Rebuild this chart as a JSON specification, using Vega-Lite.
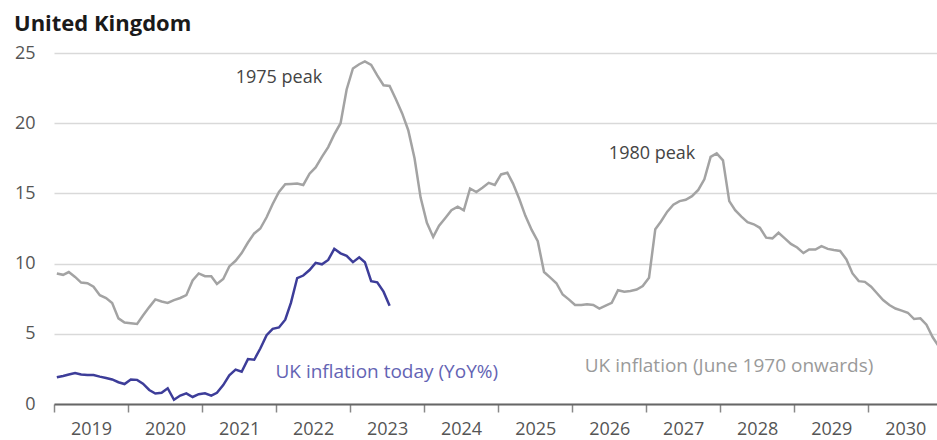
{
  "$schema": "https://vega.github.io/schema/vega-lite/v6.json",
  "autosize": {"type": "none"},
  "width": 883,
  "height": 351,
  "padding": {"left": 54, "top": 53, "right": 0, "bottom": 36},
  "background": "white",
  "title": {"text": "United Kingdom", "anchor": "start", "frame": "group", "dx": -40, "offset": -9, "fontSize": 22, "font": "Open Sans", "fontWeight": "bold", "color": "#1a1a1a", "baseline": "alphabetic"},
  "config": {"view": {"stroke": null}, "font": "Open Sans"},
  "datasets": {
    "history": [
      {"date": "2019-01-15", "value": 9.3}, {"date": "2019-02-15", "value": 9.2}, {"date": "2019-03-15", "value": 9.4}, {"date": "2019-04-15", "value": 9.05}, {"date": "2019-05-15", "value": 8.65}, {"date": "2019-06-15", "value": 8.6}, {"date": "2019-07-15", "value": 8.35}, {"date": "2019-08-15", "value": 7.75}, {"date": "2019-09-15", "value": 7.55}, {"date": "2019-10-15", "value": 7.2}, {"date": "2019-11-15", "value": 6.1}, {"date": "2019-12-15", "value": 5.8},
      {"date": "2020-01-15", "value": 5.75}, {"date": "2020-02-15", "value": 5.7}, {"date": "2020-03-15", "value": 6.3}, {"date": "2020-04-15", "value": 6.9}, {"date": "2020-05-15", "value": 7.45}, {"date": "2020-06-15", "value": 7.3}, {"date": "2020-07-15", "value": 7.2}, {"date": "2020-08-15", "value": 7.4}, {"date": "2020-09-15", "value": 7.55}, {"date": "2020-10-15", "value": 7.75}, {"date": "2020-11-15", "value": 8.8}, {"date": "2020-12-15", "value": 9.3},
      {"date": "2021-01-15", "value": 9.1}, {"date": "2021-02-15", "value": 9.1}, {"date": "2021-03-15", "value": 8.55}, {"date": "2021-04-15", "value": 8.9}, {"date": "2021-05-15", "value": 9.8}, {"date": "2021-06-15", "value": 10.2}, {"date": "2021-07-15", "value": 10.75}, {"date": "2021-08-15", "value": 11.5}, {"date": "2021-09-15", "value": 12.15}, {"date": "2021-10-15", "value": 12.5}, {"date": "2021-11-15", "value": 13.3}, {"date": "2021-12-15", "value": 14.25},
      {"date": "2022-01-15", "value": 15.1}, {"date": "2022-02-15", "value": 15.65}, {"date": "2022-03-15", "value": 15.67}, {"date": "2022-04-15", "value": 15.7}, {"date": "2022-05-15", "value": 15.6}, {"date": "2022-06-15", "value": 16.4}, {"date": "2022-07-15", "value": 16.85}, {"date": "2022-08-15", "value": 17.6}, {"date": "2022-09-15", "value": 18.3}, {"date": "2022-10-15", "value": 19.2}, {"date": "2022-11-15", "value": 20.0}, {"date": "2022-12-15", "value": 22.4},
      {"date": "2023-01-15", "value": 23.9}, {"date": "2023-02-15", "value": 24.2}, {"date": "2023-03-15", "value": 24.4}, {"date": "2023-04-15", "value": 24.15}, {"date": "2023-05-15", "value": 23.4}, {"date": "2023-06-15", "value": 22.7}, {"date": "2023-07-15", "value": 22.65}, {"date": "2023-08-15", "value": 21.7}, {"date": "2023-09-15", "value": 20.7}, {"date": "2023-10-15", "value": 19.5}, {"date": "2023-11-15", "value": 17.5}, {"date": "2023-12-15", "value": 14.7},
      {"date": "2024-01-15", "value": 12.9}, {"date": "2024-02-15", "value": 11.9}, {"date": "2024-03-15", "value": 12.7}, {"date": "2024-04-15", "value": 13.25}, {"date": "2024-05-15", "value": 13.8}, {"date": "2024-06-15", "value": 14.05}, {"date": "2024-07-15", "value": 13.8}, {"date": "2024-08-15", "value": 15.35}, {"date": "2024-09-15", "value": 15.1}, {"date": "2024-10-15", "value": 15.4}, {"date": "2024-11-15", "value": 15.75}, {"date": "2024-12-15", "value": 15.6},
      {"date": "2025-01-15", "value": 16.35}, {"date": "2025-02-15", "value": 16.47}, {"date": "2025-03-15", "value": 15.7}, {"date": "2025-04-15", "value": 14.6}, {"date": "2025-05-15", "value": 13.4}, {"date": "2025-06-15", "value": 12.4}, {"date": "2025-07-15", "value": 11.6}, {"date": "2025-08-15", "value": 9.4}, {"date": "2025-09-15", "value": 9.0}, {"date": "2025-10-15", "value": 8.6}, {"date": "2025-11-15", "value": 7.8}, {"date": "2025-12-15", "value": 7.45},
      {"date": "2026-01-15", "value": 7.05}, {"date": "2026-02-15", "value": 7.05}, {"date": "2026-03-15", "value": 7.1}, {"date": "2026-04-15", "value": 7.05}, {"date": "2026-05-15", "value": 6.8}, {"date": "2026-06-15", "value": 7.0}, {"date": "2026-07-15", "value": 7.2}, {"date": "2026-08-15", "value": 8.1}, {"date": "2026-09-15", "value": 8.0}, {"date": "2026-10-15", "value": 8.05}, {"date": "2026-11-15", "value": 8.15}, {"date": "2026-12-15", "value": 8.4},
      {"date": "2027-01-15", "value": 9.0}, {"date": "2027-02-15", "value": 12.45}, {"date": "2027-03-15", "value": 13.0}, {"date": "2027-04-15", "value": 13.7}, {"date": "2027-05-15", "value": 14.2}, {"date": "2027-06-15", "value": 14.45}, {"date": "2027-07-15", "value": 14.55}, {"date": "2027-08-15", "value": 14.8}, {"date": "2027-09-15", "value": 15.25}, {"date": "2027-10-15", "value": 16.0}, {"date": "2027-11-15", "value": 17.6}, {"date": "2027-12-15", "value": 17.85},
      {"date": "2028-01-15", "value": 17.35}, {"date": "2028-02-15", "value": 14.45}, {"date": "2028-03-15", "value": 13.8}, {"date": "2028-04-15", "value": 13.35}, {"date": "2028-05-15", "value": 12.95}, {"date": "2028-06-15", "value": 12.8}, {"date": "2028-07-15", "value": 12.55}, {"date": "2028-08-15", "value": 11.85}, {"date": "2028-09-15", "value": 11.8}, {"date": "2028-10-15", "value": 12.2}, {"date": "2028-11-15", "value": 11.8}, {"date": "2028-12-15", "value": 11.4},
      {"date": "2029-01-15", "value": 11.15}, {"date": "2029-02-15", "value": 10.75}, {"date": "2029-03-15", "value": 11.0}, {"date": "2029-04-15", "value": 11.0}, {"date": "2029-05-15", "value": 11.25}, {"date": "2029-06-15", "value": 11.05}, {"date": "2029-07-15", "value": 10.97}, {"date": "2029-08-15", "value": 10.9}, {"date": "2029-09-15", "value": 10.3}, {"date": "2029-10-15", "value": 9.3}, {"date": "2029-11-15", "value": 8.75}, {"date": "2029-12-15", "value": 8.7},
      {"date": "2030-01-15", "value": 8.35}, {"date": "2030-02-15", "value": 7.85}, {"date": "2030-03-15", "value": 7.4}, {"date": "2030-04-15", "value": 7.05}, {"date": "2030-05-15", "value": 6.8}, {"date": "2030-06-15", "value": 6.65}, {"date": "2030-07-15", "value": 6.5}, {"date": "2030-08-15", "value": 6.05}, {"date": "2030-09-15", "value": 6.1}, {"date": "2030-10-15", "value": 5.65}, {"date": "2030-11-15", "value": 4.75}, {"date": "2030-12-15", "value": 4.1}
    ],
    "today": [
      {"date": "2019-01-15", "value": 1.9}, {"date": "2019-02-15", "value": 2.0}, {"date": "2019-03-15", "value": 2.1}, {"date": "2019-04-15", "value": 2.2}, {"date": "2019-05-15", "value": 2.1}, {"date": "2019-06-15", "value": 2.07}, {"date": "2019-07-15", "value": 2.07}, {"date": "2019-08-15", "value": 1.95}, {"date": "2019-09-15", "value": 1.85}, {"date": "2019-10-15", "value": 1.75}, {"date": "2019-11-15", "value": 1.55}, {"date": "2019-12-15", "value": 1.42},
      {"date": "2020-01-15", "value": 1.75}, {"date": "2020-02-15", "value": 1.72}, {"date": "2020-03-15", "value": 1.45}, {"date": "2020-04-15", "value": 1.0}, {"date": "2020-05-15", "value": 0.75}, {"date": "2020-06-15", "value": 0.8}, {"date": "2020-07-15", "value": 1.12}, {"date": "2020-08-15", "value": 0.3}, {"date": "2020-09-15", "value": 0.6}, {"date": "2020-10-15", "value": 0.76}, {"date": "2020-11-15", "value": 0.5}, {"date": "2020-12-15", "value": 0.7},
      {"date": "2021-01-15", "value": 0.76}, {"date": "2021-02-15", "value": 0.6}, {"date": "2021-03-15", "value": 0.8}, {"date": "2021-04-15", "value": 1.35}, {"date": "2021-05-15", "value": 2.05}, {"date": "2021-06-15", "value": 2.45}, {"date": "2021-07-15", "value": 2.3}, {"date": "2021-08-15", "value": 3.2}, {"date": "2021-09-15", "value": 3.15}, {"date": "2021-10-15", "value": 3.95}, {"date": "2021-11-15", "value": 4.9}, {"date": "2021-12-15", "value": 5.35},
      {"date": "2022-01-15", "value": 5.45}, {"date": "2022-02-15", "value": 6.0}, {"date": "2022-03-15", "value": 7.2}, {"date": "2022-04-15", "value": 8.97}, {"date": "2022-05-15", "value": 9.15}, {"date": "2022-06-15", "value": 9.54}, {"date": "2022-07-15", "value": 10.05}, {"date": "2022-08-15", "value": 9.95}, {"date": "2022-09-15", "value": 10.26}, {"date": "2022-10-15", "value": 11.05}, {"date": "2022-11-15", "value": 10.73}, {"date": "2022-12-15", "value": 10.55},
      {"date": "2023-01-15", "value": 10.1}, {"date": "2023-02-15", "value": 10.45}, {"date": "2023-03-15", "value": 10.1}, {"date": "2023-04-15", "value": 8.75}, {"date": "2023-05-15", "value": 8.67}, {"date": "2023-06-15", "value": 8.0}, {"date": "2023-07-15", "value": 7.0}
    ]
  },
  "layer": [
    {
      "data": {"name": "history"},
      "mark": {"type": "line", "color": "#a3a3a3", "strokeWidth": 2.5, "clip": true},
      "encoding": {
        "x": {
          "field": "date", "type": "temporal",
          "scale": {"type": "utc", "domain": [{"year": 2019, "month": 1, "date": 1, "utc": true}, {"year": 2030, "month": 12, "date": 6, "utc": true}]},
          "axis": {"title": null, "format": "%Y", "tickCount": {"interval": "year", "step": 1}, "labelOffset": 37, "labelFlush": false, "labelOverlap": false, "grid": false, "domainColor": "#666666", "domainWidth": 2, "tickColor": "#888888", "tickSize": 8, "tickWidth": 1.5, "labelFontSize": 18, "labelColor": "#555555", "labelPadding": 8, "labelFont": "Open Sans"}
        },
        "y": {
          "field": "value", "type": "quantitative",
          "scale": {"domain": [0, 25], "nice": false},
          "axis": {"title": null, "values": [0, 5, 10, 15, 20, 25], "grid": true, "gridColor": "#d9d9d9", "gridWidth": 1.5, "domain": false, "ticks": false, "tickSize": 0, "labelFontSize": 18, "labelColor": "#555555", "labelPadding": 19, "labelFont": "Open Sans"}
        }
      }
    },
    {
      "data": {"name": "today"},
      "mark": {"type": "line", "color": "#3d3d99", "strokeWidth": 2.5},
      "encoding": {
        "x": {"field": "date", "type": "temporal"},
        "y": {"field": "value", "type": "quantitative"}
      }
    },
    {
      "data": {"values": [{"date": "2022-01-15", "value": 23.2, "label": "1975 peak"}, {"date": "2027-01-30", "value": 17.8, "label": "1980 peak"}]},
      "mark": {"type": "text", "fontSize": 18, "color": "#444444", "align": "center", "baseline": "middle"},
      "encoding": {"x": {"field": "date", "type": "temporal"}, "y": {"field": "value", "type": "quantitative"}, "text": {"field": "label"}}
    },
    {
      "data": {"values": [{"date": "2023-07-01", "value": 2.28, "label": "UK inflation today (YoY%)"}]},
      "mark": {"type": "text", "fontSize": 19, "color": "#6464b4", "align": "center", "baseline": "middle"},
      "encoding": {"x": {"field": "date", "type": "temporal"}, "y": {"field": "value", "type": "quantitative"}, "text": {"field": "label"}}
    },
    {
      "data": {"values": [{"date": "2028-02-14", "value": 2.7, "label": "UK inflation (June 1970 onwards)"}]},
      "mark": {"type": "text", "fontSize": 19, "color": "#9a9a9a", "align": "center", "baseline": "middle"},
      "encoding": {"x": {"field": "date", "type": "temporal"}, "y": {"field": "value", "type": "quantitative"}, "text": {"field": "label"}}
    }
  ]
}
